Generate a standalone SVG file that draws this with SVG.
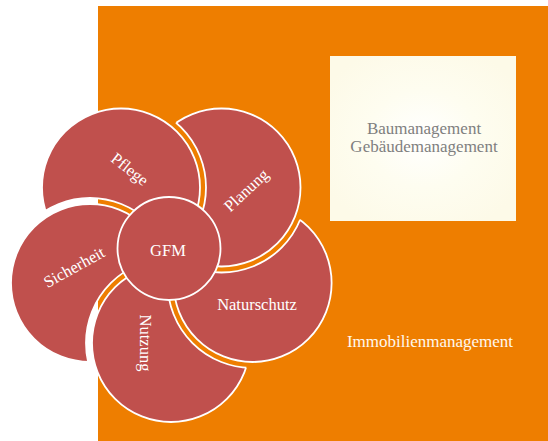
<svg xmlns="http://www.w3.org/2000/svg" width="548" height="441" viewBox="0 0 548 441">
<style>
.petal{fill:#C0504D;stroke:#FFFFFF;stroke-width:1.8}
.cut{fill:none;stroke:#FFFFFF;stroke-width:1.8}
.lbl{font-family:"Liberation Serif",serif;font-size:16.5px;fill:#FFFFFF;text-anchor:middle}
.box{font-family:"Liberation Serif",serif;font-size:17px;fill:#7F7F7F;text-anchor:middle}
.big{font-family:"Liberation Serif",serif;font-size:17px;fill:#FFF8EE;text-anchor:middle}
</style>
<defs>
<radialGradient id="yg" cx="0.5" cy="0.5" r="0.6">
<stop offset="0" stop-color="#FFFFFF"/>
<stop offset="0.5" stop-color="#FEFDF0"/>
<stop offset="1" stop-color="#FDFAE8"/>
</radialGradient>
<!-- masks: remove previous circle (dilated) -->
<mask id="mPf" maskUnits="userSpaceOnUse" x="0" y="0" width="548" height="441"><rect width="548" height="441" fill="#fff"/><circle cx="90" cy="283" r="85" fill="#000"/></mask>
<mask id="mPl" maskUnits="userSpaceOnUse" x="0" y="0" width="548" height="441"><rect width="548" height="441" fill="#fff"/><circle cx="121" cy="187.5" r="85" fill="#000"/></mask>
<mask id="mNa" maskUnits="userSpaceOnUse" x="0" y="0" width="548" height="441"><rect width="548" height="441" fill="#fff"/><circle cx="221.5" cy="187.5" r="85" fill="#000"/></mask>
<mask id="mNu" maskUnits="userSpaceOnUse" x="0" y="0" width="548" height="441"><rect width="548" height="441" fill="#fff"/><circle cx="252.6" cy="283" r="85" fill="#000"/></mask>
<mask id="mSi" maskUnits="userSpaceOnUse" x="0" y="0" width="548" height="441"><rect width="548" height="441" fill="#fff"/><circle cx="171" cy="343" r="85" fill="#000"/></mask>
<clipPath id="cPf"><circle cx="121" cy="187.5" r="79"/></clipPath>
<clipPath id="cPl"><circle cx="221.5" cy="187.5" r="79"/></clipPath>
<clipPath id="cNa"><circle cx="252.6" cy="283" r="79"/></clipPath>
<clipPath id="cNu"><circle cx="171" cy="343" r="79"/></clipPath>
<clipPath id="cSi"><circle cx="90" cy="283" r="79"/></clipPath>
</defs>
<rect width="548" height="441" fill="#FFFFFF"/>
<g id="immobilienmanagement">
<rect x="98" y="6" width="450" height="435" fill="#EE7E00"/>
<text class="big" x="430" y="347">Immobilienmanagement</text>
</g>
<g id="bau-gebaeude">
<rect x="330" y="56" width="186" height="165" fill="url(#yg)"/>
<text class="box" x="424" y="133.5">Baumanagement</text>
<text class="box" x="424" y="152">Gebäudemanagement</text>
</g>
<g id="connectors"></g>
<g id="pflege">
<g mask="url(#mPf)"><circle class="petal" cx="121" cy="187.5" r="79"/></g>
<circle class="cut" cx="90" cy="283" r="85" clip-path="url(#cPf)"/>
<text class="lbl" transform="translate(130 169) rotate(38)" dy="0.35em">Pflege</text>
</g>
<g id="planung">
<g mask="url(#mPl)"><circle class="petal" cx="221.5" cy="187.5" r="79"/></g>
<circle class="cut" cx="121" cy="187.5" r="85" clip-path="url(#cPl)"/>
<text class="lbl" transform="translate(246 190) rotate(-43)" dy="0.35em">Planung</text>
</g>
<g id="naturschutz">
<g mask="url(#mNa)"><circle class="petal" cx="252.6" cy="283" r="79"/></g>
<circle class="cut" cx="221.5" cy="187.5" r="85" clip-path="url(#cNa)"/>
<text class="lbl" x="257" y="310">Naturschutz</text>
</g>
<g id="nutzung">
<g mask="url(#mNu)"><circle class="petal" cx="171" cy="343" r="79"/></g>
<circle class="cut" cx="252.6" cy="283" r="85" clip-path="url(#cNu)"/>
<text class="lbl" transform="translate(146 343) rotate(90)" dy="0.35em">Nutzung</text>
</g>
<g id="sicherheit">
<g mask="url(#mSi)"><circle class="petal" cx="90" cy="283" r="79"/></g>
<circle class="cut" cx="171" cy="343" r="85" clip-path="url(#cSi)"/>
<text class="lbl" transform="translate(74 267) rotate(-29)" dy="0.35em">Sicherheit</text>
</g>
<g id="gfm">
<circle class="petal" cx="169" cy="248.5" r="51.5"/>
<text class="lbl" x="168" y="256">GFM</text>
</g>
</svg>
